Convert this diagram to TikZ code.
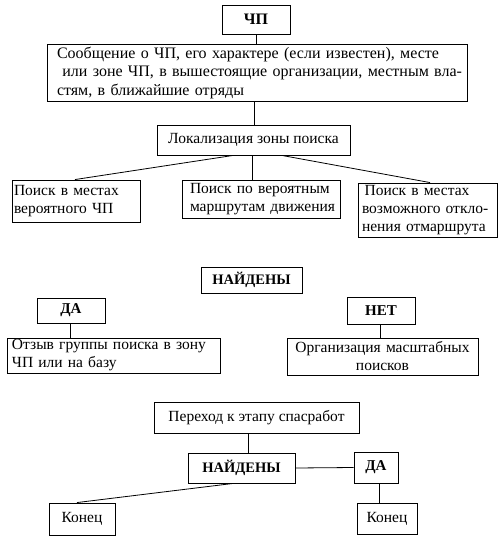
\documentclass[tikz,border=0pt]{standalone}
\usepackage{fontspec}
\setmainfont{Liberation Serif}
\newcommand\myfs{\fontsize{15.5}{18}\selectfont}
\newcommand\myfb{\fontsize{14.5}{18}\selectfont\bfseries}
\newcommand\oneln[1]{\mbox{#1}}
\begin{document}
\begin{tikzpicture}[x=1pt,y=-1pt,
  box/.style={draw, line width=0.9pt, inner sep=0pt, font=\myfs, align=center},
  conn/.style={line width=0.8pt}]
\useasboundingbox (0,0) rectangle (500,542);
\node[box, minimum width=68pt, minimum height=29pt, font=\fontsize{16}{18}\selectfont\bfseries] (chp) at (256,19.5) {ЧП};
\node[box, minimum width=420pt, minimum height=57pt, text width=400pt, align=left, font=\fontsize{16}{18.5}\selectfont] (msg) at (257,72.5)
  {\oneln{Сообщение о ЧП, его характере (если известен), месте}\\
  \oneln{\ или зоне ЧП, в вышестоящие организации, местным вла-}\\
  \oneln{стям, в ближайшие отряды}};
\node[box, minimum width=193pt, minimum height=30pt] (lok) at (253.5,140) {Локализация зоны поиска};
\node[box, minimum width=128pt, minimum height=42pt, text width=124pt, align=left] (s1) at (76,201)
  {\oneln{Поиск в местах}\\\oneln{вероятного ЧП}};
\node[box, minimum width=158pt, minimum height=38pt, text width=142pt, align=left] (s2) at (261,199)
  {\oneln{Поиск по вероятным}\\\oneln{маршрутам движения}};
\node[box, minimum width=139pt, minimum height=54pt, text width=131pt, align=left] (s3) at (427.5,210)
  {\oneln{\,Поиск в местах}\\\oneln{возможного откло-}\\\oneln{нения отмаршрута}};
\node[box, minimum width=101pt, minimum height=26pt, font=\myfb] (f1) at (251.5,280) {НАЙДЕНЫ};
\node[box, minimum width=68pt, minimum height=25pt, font=\fontsize{15}{18}\selectfont\bfseries] (y1) at (71,310.5) {ДА};
\node[box, minimum width=68pt, minimum height=27pt, font=\fontsize{15}{18}\selectfont\bfseries] (n1) at (381,310.5) {НЕТ};
\node[box, minimum width=213pt, minimum height=35pt, text width=203pt, align=left] (rec) at (113.5,355.5)
  {\oneln{Отзыв группы поиска в зону}\\\oneln{ЧП или на базу}};
\node[box, minimum width=191pt, minimum height=37pt, text width=183pt, align=center] (org) at (382.5,356.5)
  {\oneln{Организация масштабных}\\поисков};
\node[box, minimum width=205pt, minimum height=31pt] (tr) at (256.5,417.5) {Переход к этапу спасработ};
\node[box, minimum width=107pt, minimum height=30pt, font=\myfb] (f2) at (241.5,468) {НАЙДЕНЫ};
\node[box, minimum width=44pt, minimum height=31pt, font=\fontsize{15}{18}\selectfont\bfseries] (y2) at (376,467.5) {ДА};
\node[box, minimum width=66pt, minimum height=32pt] (e1) at (82,519) {Конец};
\node[box, minimum width=60pt, minimum height=31pt] (e2) at (387,518.5) {Конец};
% connectors
\draw[conn] (chp.south) -- (chp.south |- msg.north);
\draw[conn] (msg.south -| 254,0) -- (lok.north -| 254,0);
\draw[conn] (lok.south -| 233,0) -- (s1.north -| 75,0);
\draw[conn] (lok.south -| 252,0) -- (s2.north -| 252,0);
\draw[conn] (lok.south -| 282,0) -- (s3.north -| 430,0);
\draw[conn] (y1.south -| 70,0) -- (rec.north -| 70,0);
\draw[conn] (n1.south -| 380,0) -- (org.north -| 380,0);
\draw[conn] (tr.south -| 248,0) -- (f2.north -| 248,0);
\draw[conn] (f2.east) -- (y2.west);
\draw[conn] (y2.south -| 379,0) -- (e2.north -| 379,0);
\draw[conn] (f2.south -| 233,0) -- (e1.north -| 77,0);
\end{tikzpicture}
\end{document}
